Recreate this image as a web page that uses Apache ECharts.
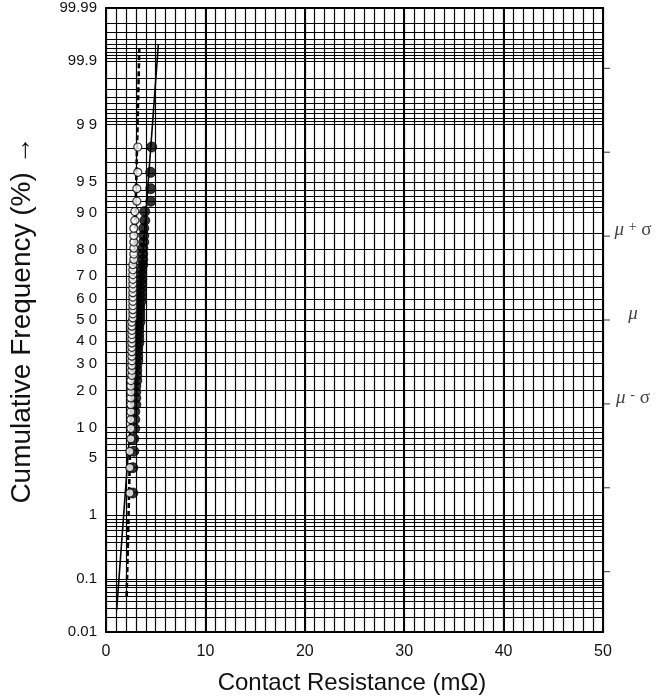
<!DOCTYPE html>
<html><head><meta charset="utf-8">
<script src="https://cdn.jsdelivr.net/npm/echarts@6/dist/echarts.min.js"></script>
<style>html,body{margin:0;padding:0;background:#fff}#c{width:659px;height:700px}</style>
</head><body><div id="c"></div>
<script>
// cumulative frequency (%) of each ranked sample (n = 50)
const percents = [1.96,3.92,5.88,7.84,9.80,11.76,13.73,15.69,17.65,19.61,21.57,23.53,25.49,27.45,29.41,31.37,33.33,35.29,37.25,39.22,41.18,43.14,45.10,47.06,49.02,50.98,52.94,54.90,56.86,58.82,60.78,62.75,64.71,66.67,68.63,70.59,72.55,74.51,76.47,78.43,80.39,82.35,84.31,86.27,88.24,90.20,92.16,94.12,96.08,98.04];
// contact resistance (mΩ), open circles
const openX = [2.4,2.4,2.4,2.5,2.5,2.5,2.5,2.5,2.5,2.5,2.5,2.5,2.6,2.6,2.6,2.6,2.6,2.6,2.6,2.6,2.6,2.6,2.6,2.6,2.6,2.7,2.7,2.7,2.7,2.7,2.7,2.7,2.7,2.7,2.7,2.7,2.7,2.7,2.8,2.8,2.8,2.8,2.8,2.8,2.9,2.9,3.1,3.1,3.2,3.2];
// contact resistance (mΩ), filled circles
const filledX = [2.7,2.7,2.8,2.8,2.9,2.9,2.9,3.0,3.0,3.0,3.0,3.1,3.1,3.1,3.1,3.2,3.2,3.2,3.2,3.3,3.3,3.3,3.3,3.3,3.4,3.4,3.4,3.4,3.4,3.5,3.5,3.5,3.5,3.6,3.6,3.6,3.6,3.7,3.7,3.7,3.7,3.8,3.8,3.8,3.9,3.9,4.5,4.5,4.5,4.6];
// fitted lines: [resistance, cumulative %]
const dashedFit = [[2.08,0.05],[3.35,99.94]];
const solidFit = [[1.07,0.027],[5.27,99.95]];
// horizontal rulings of the probability paper (%)
const gridPercents = [0.02,0.03,0.04,0.05,0.06,0.07,0.08,0.09,0.1,0.2,0.3,0.4,0.5,0.6,0.7,0.8,0.9,1,2,3,4,5,6,7,8,9,10,15,20,25,30,35,40,45,50,55,60,65,70,75,80,85,90,91,92,93,94,95,96,97,98,99,99.1,99.2,99.3,99.4,99.5,99.6,99.7,99.8,99.9,99.91,99.92,99.93,99.94,99.95,99.96,99.97,99.98];
const yTickValues = [0.01,0.1,1,5,10,20,30,40,50,60,70,80,90,95,99,99.9,99.99];
const yTickLabels = ['0.01','0.1','1','5','1 0','2 0','3 0','4 0','5 0','6 0','7 0','8 0','9 0','9 5','9 9','99.9','99.99'];
const xTickLabels = ['0','10','20','30','40','50'];
const sigmaMarks = [-3,-2,-1,0,1,2,3];
const sigmaLabelAt = [1,0,-1];
const sigmaLabelText = ['{m|μ} {s|+} σ','{m|μ}','{m|μ} {s|-} σ'];

// inverse normal CDF (probability-paper scale)
function probit(p){
  const a=[-3.969683028665376e+01,2.209460984245205e+02,-2.759285104469687e+02,1.383577518672690e+02,-3.066479806614716e+01,2.506628277459239e+00];
  const b=[-5.447609879822406e+01,1.615858368580409e+02,-1.556989798598866e+02,6.680131188771972e+01,-1.328068155288572e+01];
  const c=[-7.784894002430293e-03,-3.223964580411365e-01,-2.400758277161838e+00,-2.549671010115282e+00,4.374664141464968e+00,2.938163982698783e+00];
  const d=[7.784695709041462e-03,3.224671290700398e-01,2.445134137142996e+00,3.754408661907416e+00];
  const pl=0.02425, ph=1-pl; let q,r;
  if(p<pl){q=Math.sqrt(-2*Math.log(p));return (((((c[0]*q+c[1])*q+c[2])*q+c[3])*q+c[4])*q+c[5])/((((d[0]*q+d[1])*q+d[2])*q+d[3])*q+1);}
  if(p<=ph){q=p-0.5;r=q*q;return (((((a[0]*r+a[1])*r+a[2])*r+a[3])*r+a[4])*r+a[5])*q/(((((b[0]*r+b[1])*r+b[2])*r+b[3])*r+b[4])*r+1);}
  q=Math.sqrt(-2*Math.log(1-p));return -(((((c[0]*q+c[1])*q+c[2])*q+c[3])*q+c[4])*q+c[5])/((((d[0]*q+d[1])*q+d[2])*q+d[3])*q+1);
}
const Z = pct => probit(pct/100);
const zMin = Z(0.01), zMax = Z(99.99);

const chart = echarts.init(document.getElementById('c'), null, {renderer:'canvas'});
const FONT = '"Liberation Sans", Arial, sans-serif';
const SERIF = '"Liberation Serif", "DejaVu Serif", serif';

const hLines = gridPercents.map(p => ({yAxis: Z(p)}));

chart.setOption({
  animation:false,
  grid:{left:106, right:56, top:8, bottom:68, show:true, borderColor:'#000', borderWidth:2, z:5},
  xAxis:[
    {type:'value', min:0, max:50, interval:1,
     axisLine:{show:false}, axisTick:{show:false},
     axisLabel:{show:true, margin:12, fontSize:16, color:'#111', fontFamily:FONT,
       formatter: v => (v % 10 === 0 ? xTickLabels[v/10] : '')},
     splitLine:{show:true, lineStyle:{color:'#000', width:1.2}}},
    {type:'value', min:0, max:50, interval:10, show:true,
     axisLine:{show:false}, axisTick:{show:false}, axisLabel:{show:false},
     splitLine:{show:true, lineStyle:{color:'#000', width:2}}}
  ],
  yAxis:{type:'value', min:zMin, max:zMax, axisLine:{show:false}, axisTick:{show:false}, axisLabel:{show:false}, splitLine:{show:false}},
  series:[
    {type:'line', data:[], silent:true, markLine:{silent:true, symbol:'none', animation:false,
      lineStyle:{color:'#000', width:1.2, type:'solid'}, label:{show:false}, data:hLines}},
    {name:'fitB', type:'line', data: solidFit.map(d => [d[0], Z(d[1])]), symbol:'none', z:3,
      lineStyle:{color:'#000', width:1.6}},
    {name:'fitA', type:'line', data: dashedFit.map(d => [d[0], Z(d[1])]), symbol:'none', z:3,
      lineStyle:{color:'#000', width:2.6, type:[5,3]}},
    {name:'B', type:'scatter', data: filledX.map((x,i) => [x, Z(percents[i])]), symbol:'circle', symbolSize:10, z:4,
      itemStyle:{color:'#000', borderColor:'#000', borderWidth:1}},
    {name:'A', type:'scatter', data: openX.map((x,i) => [x, Z(percents[i])]), symbol:'circle', symbolSize:8, z:6,
      itemStyle:{color:'#fff', borderColor:'#000', borderWidth:1.2}}
  ]
});

const gx = chart.convertToPixel({xAxisIndex:0}, 50);
const gx0 = chart.convertToPixel({xAxisIndex:0}, 0);
const g = [];
yTickValues.forEach((p,i) => {
  const py = chart.convertToPixel({yAxisIndex:0}, Z(p));
  g.push({type:'text', x:gx0-9, y:py, style:{text:yTickLabels[i], fontSize:15, fontFamily:FONT, fill:'#111', align:'right', verticalAlign:'middle'}});
});
sigmaMarks.forEach(s => {
  const py = chart.convertToPixel({yAxisIndex:0}, s);
  g.push({type:'line', shape:{x1:gx+1, y1:py, x2:gx+7, y2:py}, style:{stroke:'#333', lineWidth:1}});
});
sigmaLabelAt.forEach((s,i) => {
  const py = chart.convertToPixel({yAxisIndex:0}, s);
  g.push({type:'text', x:gx+30, y:py-6, style:{text:sigmaLabelText[i], fill:'#444', fontSize:19, fontFamily:SERIF, align:'center', verticalAlign:'middle',
    rich:{m:{fontStyle:'italic', fontFamily:SERIF, fontSize:19, fill:'#444'},
          s:{fontFamily:SERIF, fontSize:14, fill:'#444', verticalAlign:'top'}}}});
});
g.push({type:'text', x:352, y:683, style:{text:'Contact Resistance (mΩ)', fontSize:24, fontFamily:FONT, fill:'#111', align:'center', verticalAlign:'middle'}});
g.push({type:'text', x:22, y:320, rotation:Math.PI/2, style:{text:'Cumulative Frequency (%) →', fontSize:28, fontFamily:FONT, fill:'#111', align:'center', verticalAlign:'middle'}});
chart.setOption({graphic:g});
</script></body></html>
